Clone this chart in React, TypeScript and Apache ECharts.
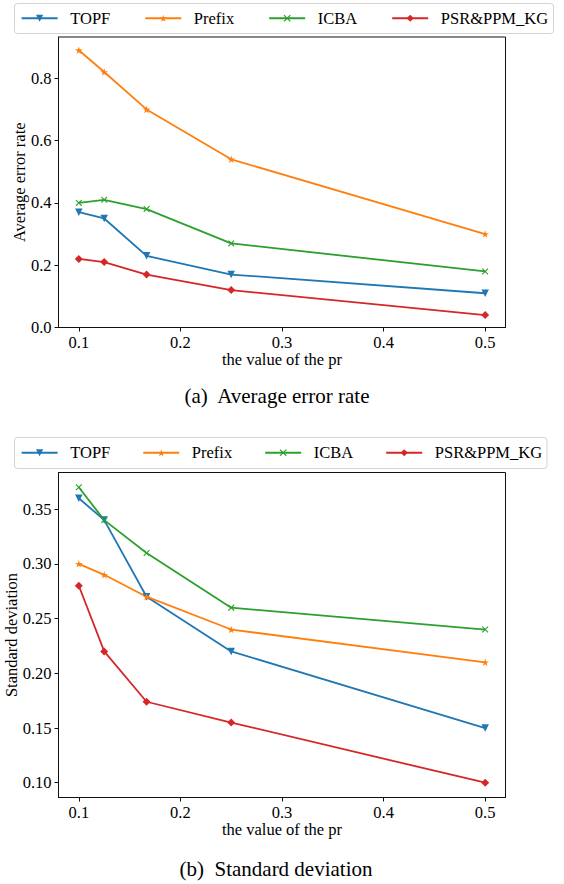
import React, { useEffect, useRef } from "react";
import * as echarts from "echarts";

// ---- data ----
const prValues = [0.1, 0.125, 0.1667, 0.25, 0.5];
const seriesNames = ["TOPF", "Prefix", "ICBA", "PSR&PPM_KG"];

const errTOPF = [0.37, 0.35, 0.23, 0.17, 0.11];
const errPrefix = [0.89, 0.82, 0.7, 0.54, 0.3];
const errICBA = [0.4, 0.41, 0.38, 0.27, 0.18];
const errPSR = [0.22, 0.21, 0.17, 0.12, 0.04];

const sdTOPF = [0.36, 0.34, 0.27, 0.22, 0.15];
const sdPrefix = [0.3, 0.29, 0.27, 0.24, 0.21];
const sdICBA = [0.37, 0.34, 0.31, 0.26, 0.24];
const sdPSR = [0.28, 0.22, 0.174, 0.155, 0.1];

const xTicks = [0.1, 0.2, 0.3, 0.4, 0.5];
const errTicks = [0, 0.2, 0.4, 0.6, 0.8];
const sdTicks = [0.1, 0.15, 0.2, 0.25, 0.3, 0.35];

const xTitle = "the value of the pr";
const errTitle = "Average error rate";
const sdTitle = "Standard deviation";
const captionA = "(a)  Average error rate";
const captionB = "(b)  Standard deviation";

// ---- styles ----
const FONT = "Liberation Serif";
const colors = ["#1f77b4", "#ff7f0e", "#2ca02c", "#d62728"];
const STAR =
  "path://M50,0 L61.8,35.5 L99,35.5 L69,57.5 L80.5,93 L50,71 L19.5,93 L31,57.5 L1,35.5 L38.2,35.5 Z";
const XMARK =
  "path://M0,12 L12,0 L50,38 L88,0 L100,12 L62,50 L100,88 L88,100 L50,62 L12,100 L0,88 L38,50 Z";
const TRIDOWN = "path://M0,0 L100,0 L50,100 Z";
const symbols = [TRIDOWN, STAR, XMARK, "diamond"];
const symbolSizes = [7.5, 7.5, 6.5, 8];

const axisColor = "#111";

function makeSeries(gridIdx: number, sets: number[][]) {
  return sets.map((vals, j) => ({
    type: "line",
    name: seriesNames[j],
    xAxisIndex: gridIdx,
    yAxisIndex: gridIdx,
    data: prValues.map((x, k) => [x, vals[k]]),
    symbol: symbols[j],
    symbolSize: symbolSizes[j],
    showSymbol: true,
    lineStyle: { width: 1.8, color: colors[j] },
    itemStyle: { color: colors[j] },
    emphasis: { disabled: true },
  }));
}

function xAxis(gridIdx: number) {
  return {
    type: "value",
    gridIndex: gridIdx,
    min: 0.08,
    max: 0.52,
    name: xTitle,
    nameLocation: "middle",
    nameGap: 22,
    nameTextStyle: { fontFamily: FONT, fontSize: 16.5, color: "#000" },
    axisLine: { show: true, lineStyle: { color: axisColor, width: 1 } },
    axisTick: {
      show: true,
      inside: false,
      length: 4,
      lineStyle: { color: axisColor, width: 1 },
      customValues: xTicks,
    },
    axisLabel: {
      show: true,
      margin: 6,
      fontFamily: FONT,
      fontSize: 16.5,
      color: "#000",
      customValues: xTicks,
      formatter: (v: number) => v.toFixed(1),
    },
    splitLine: { show: false },
  };
}

function yAxis(
  gridIdx: number,
  min: number,
  max: number,
  ticks: number[],
  digits: number,
  name: string,
  gap: number
) {
  return {
    type: "value",
    gridIndex: gridIdx,
    min,
    max,
    name,
    nameLocation: "middle",
    nameGap: gap,
    nameMoveOverlap: false,
    nameTextStyle: { fontFamily: FONT, fontSize: 16.5, color: "#000" },
    axisLine: { show: true, lineStyle: { color: axisColor, width: 1 } },
    axisTick: {
      show: true,
      inside: false,
      length: 4,
      lineStyle: { color: axisColor, width: 1 },
      customValues: ticks,
    },
    axisLabel: {
      show: true,
      margin: 7,
      fontFamily: FONT,
      fontSize: 16.5,
      color: "#000",
      customValues: ticks,
      formatter: (v: number) => v.toFixed(digits),
    },
    splitLine: { show: false },
  };
}

function legend(top: number, gap: number) {
  return {
    data: seriesNames,
    left: 20.6,
    top,
    padding: 0,
    orient: "horizontal",
    itemWidth: 36,
    itemHeight: 9,
    itemGap: gap,
    selectedMode: false,
    textStyle: {
      fontFamily: FONT,
      fontSize: 16.5,
      color: "#000",
      padding: [0, 0, 0, 7.6],
    },
  };
}

export default function App() {
  const ref = useRef<HTMLDivElement>(null);
  useEffect(() => {
    if (!ref.current) return;
    const chart = echarts.init(ref.current, null, { renderer: "svg" });
    const option = {
      animation: false,
      backgroundColor: "#fff",
      textStyle: { fontFamily: FONT },
      grid: [
        {
          left: 58.5,
          top: 37,
          width: 447,
          height: 290.5,
          show: true,
          borderColor: axisColor,
          borderWidth: 1,
          backgroundColor: "transparent",
          containLabel: false,
          outerBoundsMode: "none",
        },
        {
          left: 58.5,
          top: 472.5,
          width: 447,
          height: 325,
          show: true,
          borderColor: axisColor,
          borderWidth: 1,
          backgroundColor: "transparent",
          containLabel: false,
          outerBoundsMode: "none",
        },
      ],
      xAxis: [xAxis(0), xAxis(1)],
      yAxis: [
        yAxis(0, 0, 0.9325, errTicks, 1, errTitle, 31),
        yAxis(1, 0.0865, 0.3835, sdTicks, 2, sdTitle, 39),
      ],
      legend: [legend(9.75, 34), legend(444.25, 32)],
      series: [
        ...makeSeries(0, [errTOPF, errPrefix, errICBA, errPSR]),
        ...makeSeries(1, [sdTOPF, sdPrefix, sdICBA, sdPSR]),
      ],
      graphic: [
        {
          type: "rect",
          z: 0,
          shape: { x: 14.5, y: 3.5, width: 539, height: 30, r: 3 },
          style: { fill: "#fff", stroke: "#d4d4d4", lineWidth: 1 },
        },
        {
          type: "rect",
          z: 0,
          shape: { x: 14.5, y: 437.5, width: 532.5, height: 31, r: 3 },
          style: { fill: "#fff", stroke: "#d4d4d4", lineWidth: 1 },
        },
        {
          type: "text",
          z: 5,
          style: {
            text: captionA,
            x: 277,
            y: 396,
            align: "center",
            verticalAlign: "middle",
            font: `21px ${FONT}`,
            fill: "#000",
          },
        },
        {
          type: "text",
          z: 5,
          style: {
            text: captionB,
            x: 276,
            y: 869,
            align: "center",
            verticalAlign: "middle",
            font: `21px ${FONT}`,
            fill: "#000",
          },
        },
      ],
    };
    chart.setOption(option as any);
    return () => chart.dispose();
  }, []);
  return (
    <div
      ref={ref}
      style={{
        position: "fixed",
        left: 0,
        top: 0,
        width: 564,
        height: 884,
        background: "#fff",
      }}
    />
  );
}
